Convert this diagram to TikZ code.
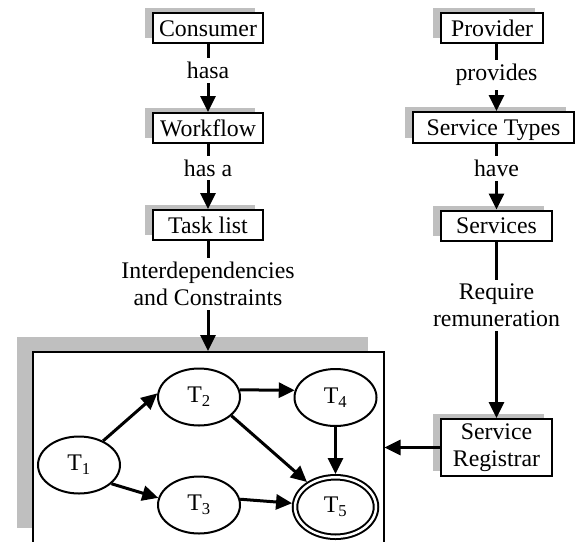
\documentclass[tikz,border=0pt]{standalone}
\usepackage{fontspec}
\setmainfont{Liberation Serif}
\usetikzlibrary{shapes.geometric,arrows.meta,shadows}

\tikzset{
    shade box/.style={drop shadow={shadow xshift=-8pt, shadow yshift=5pt, fill=black!25, opacity=1}},
    box/.style={draw, line width=2pt, fill=white, inner sep=0pt, minimum height=30pt, text height=16.5pt, text depth=0pt, shade box},
    task/.style={draw, ellipse, line width=2pt, fill=white, inner sep=0pt, minimum width=82pt, minimum height=57pt},
    arr/.style={line width=3pt, -{Triangle[length=16pt, width=15pt]}},
    lbl/.style={fill=white, inner sep=4pt, align=center}
}

\begin{document}
\begin{tikzpicture}[x=1pt, y=-1pt, font=\fontsize{23.8pt}{27pt}\selectfont]
            \useasboundingbox (0, 0) rectangle (580, 541);
            \clip (0, 0) rectangle (580, 541);
            \node[box, minimum width=110pt](consumer) at (208, 28){Consumer};
            \node[box, minimum width=110pt](workflow) at (208, 128){Workflow};
            \node[box, minimum width=110pt](tasklist) at (208, 225){Task list};
            \node[box, minimum width=102pt](provider) at (492, 28){Provider};
            \node[box, minimum width=161pt, minimum height=31pt](stypes) at (493.5, 127.5){Service Types};
            \node[box, minimum width=111pt](services) at (496.5, 225.5){Services};
            \node[box, minimum width=111pt, minimum height=57pt, text height=, text depth=, align=center](registrar) at (496.5, 447.5){Service\\Registrar};
            \node[draw, line width=2pt, fill=white, minimum width=351pt, minimum height=191pt,
                drop shadow={shadow xshift=-16pt, shadow yshift=15pt, fill=black!25, opacity=1}](wf) at (208, 447.5){};
            \node[task](t1) at (79, 465){T\textsubscript{1}};
            \node[task](t2) at (199, 397){T\textsubscript{2}};
            \node[task](t3) at (199, 505){T\textsubscript{3}};
            \node[task](t4) at (335.5, 397.5){T\textsubscript{4}};
            \node[task, double, double distance=2.5pt, outer sep=3.25pt, minimum width=81pt, minimum height=59.5pt](t5) at (335.5, 507){T\textsubscript{5}};
            \draw[arr](consumer)--node[lbl, pos=.39]{hasa}(workflow);
            \draw[arr](workflow)--node[lbl, pos=.37]{has a}(tasklist);
            \draw[arr](tasklist)--node[lbl, pos=.39]{Interdependencies\\and Constraints}(wf);
            \draw[arr](provider.south -| services)--node[lbl, pos=.46]{provides}(stypes.north -| services);
            \draw[arr](stypes.south -| services)--node[lbl, pos=.37]{have}(services);
            \draw[arr](services)--node[lbl, pos=.36]{Require\\remuneration}(registrar);
            \draw[arr](registrar)--(wf);
            \draw[arr](t1.45)--(t2.175);
            \draw[arr](t1.-30)--(t3.170);
            \draw[arr](t2.10)--(t4.170);
            \draw[arr](t2.-30)--(t5);
            \draw[arr](t4)--(t5);
            \draw[arr](t3.8)--(t5.175);
        \end{tikzpicture}
\end{document}
